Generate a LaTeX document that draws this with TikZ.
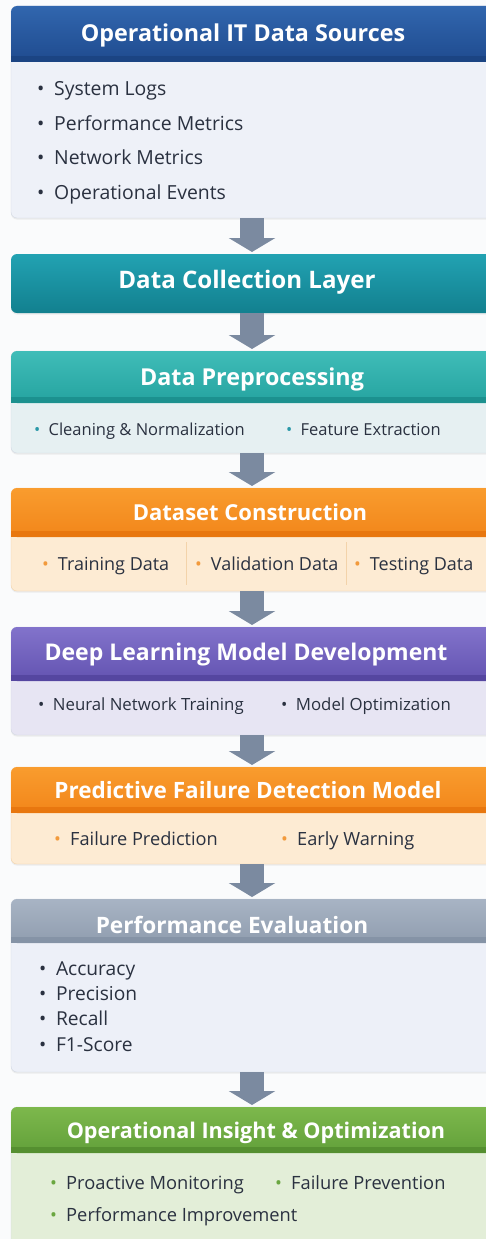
\documentclass[tikz,border=0pt]{standalone}
\usepackage{fontspec}
\setmainfont{Open Sans}
\usepackage{xcolor}
\usetikzlibrary{positioning,arrows.meta,shadows}

% palette
\definecolor{ink}{HTML}{2A3140}
\definecolor{paper}{HTML}{FAFBFC}
\definecolor{edge}{HTML}{D3D9E4}
\definecolor{arrowc}{HTML}{7B8AA0}
\definecolor{srctop}{HTML}{3166AE}
\definecolor{srcbot}{HTML}{1F4B8F}
\definecolor{srcband}{HTML}{1B4483}
\definecolor{srcfill}{HTML}{EEF1F8}
\definecolor{coltop}{HTML}{22A2B2}
\definecolor{colbot}{HTML}{12808F}
\definecolor{pretop}{HTML}{3FBDB8}
\definecolor{prebot}{HTML}{25A3A0}
\definecolor{preband}{HTML}{1C918F}
\definecolor{prefill}{HTML}{E6F0F2}
\definecolor{predot}{HTML}{2A98A8}
\definecolor{orgtop}{HTML}{F99C2E}
\definecolor{orgbot}{HTML}{F2861A}
\definecolor{orgband}{HTML}{E8770F}
\definecolor{orgfill}{HTML}{FDEBD3}
\definecolor{orgedge}{HTML}{F3D3AA}
\definecolor{orgdot}{HTML}{F29A3C}
\definecolor{purtop}{HTML}{8273CB}
\definecolor{purbot}{HTML}{6353B1}
\definecolor{purband}{HTML}{5546A0}
\definecolor{purfill}{HTML}{E7E5F3}
\definecolor{gretop}{HTML}{A8B4C4}
\definecolor{grebot}{HTML}{909DAF}
\definecolor{greband}{HTML}{8593A6}
\definecolor{grefill}{HTML}{EDF0F8}
\definecolor{grntop}{HTML}{7DB84C}
\definecolor{grnbot}{HTML}{62A03A}
\definecolor{grnband}{HTML}{558F30}
\definecolor{grnfill}{HTML}{E3EED8}
\definecolor{grndot}{HTML}{6AA640}

\tikzset{
  panel/.style={anchor=north west, rectangle, rounded corners=6pt, minimum width=482pt,
    inner sep=0pt, outer sep=0pt, draw=edge,
    drop shadow={opacity=0.12, shadow xshift=0pt, shadow yshift=-1.5pt}},
  hdr/.style={anchor=north west, rectangle, rounded corners=6pt, minimum width=482pt,
    inner sep=0pt, outer sep=0pt},
  ttl/.style={anchor=base, text=white, inner sep=0pt, font=\bfseries\fontsize{#1}{28}\selectfont},
  ttl/.default=23.3,
  item/.style={anchor=base west, inner sep=0pt, text=ink, font=\fontsize{#1}{#1}\selectfont},
  item/.default=18,
  flow/.style={line width=24pt, draw=arrowc, -{Triangle[width=46pt,length=14pt]}, shorten >=2pt},
  divline/.style={draw=orgedge, line width=0.8pt}
}

\begin{document}
\begin{tikzpicture}[x=1pt, y=-1pt]
  \fill[paper] (0,0) rectangle (486,1239);
  \useasboundingbox (0,0) rectangle (486,1239);

  % operational data sources
  \node[panel, fill=srcfill, minimum height=212pt] (src) at (11,6) {};
  \node[hdr, top color=srctop, bottom color=srcbot, minimum height=56pt] (srchdr) at (11,6) {};
  \fill[srcband] ([yshift=6pt]srchdr.south west) rectangle (srchdr.south east);
  \node[ttl] (srcttl) at (243,42) {Operational IT Data Sources};
  \node[item=19.4] (logs) at (37,95) {\textbullet\enspace System Logs};
  \node[item=19.4] (perf) at (37,130) {\textbullet\enspace Performance Metrics};
  \node[item=19.4] (net) at (37,164) {\textbullet\enspace Network Metrics};
  \node[item=19.4] (events) at (37,199) {\textbullet\enspace Operational Events};

  % collection layer
  \node[hdr, top color=coltop, bottom color=colbot, minimum height=59pt,
    drop shadow={opacity=0.12, shadow xshift=0pt, shadow yshift=-1.5pt}] (col) at (11,254) {};
  \node[ttl=24.1] (colttl) at (247,288) {Data Collection Layer};

  % preprocessing
  \node[panel, fill=prefill, minimum height=102pt] (pre) at (11,351) {};
  \node[hdr, top color=pretop, bottom color=prebot, minimum height=52pt] (prehdr) at (11,351) {};
  \fill[preband] ([yshift=6pt]prehdr.south west) rectangle (prehdr.south east);
  \node[ttl] (prettl) at (252,385) {Data Preprocessing};
  \node[item=16.5] (clean) at (34,435) {\textcolor{predot}{\textbullet}\enspace Cleaning \& Normalization};
  \node[item=16.5] (feat) at (286,435) {\textcolor{predot}{\textbullet}\enspace Feature Extraction};

  % dataset construction
  \node[panel, fill=orgfill, draw=orgedge, minimum height=103pt] (ds) at (11,488) {};
  \node[hdr, top color=orgtop, bottom color=orgbot, minimum height=49pt] (dshdr) at (11,488) {};
  \fill[orgband] ([yshift=6pt]dshdr.south west) rectangle (dshdr.south east);
  \node[ttl=22] (dsttl) at (250,520) {Dataset Construction};
  \node[item=18] (train) at (42,570) {\textcolor{orgdot}{\textbullet}\enspace Training Data};
  \node[item=18] (valid) at (195,570) {\textcolor{orgdot}{\textbullet}\enspace Validation Data};
  \node[item=18] (test) at (354,570) {\textcolor{orgdot}{\textbullet}\enspace Testing Data};
  \draw[divline] (186,542) -- (186,585);
  \draw[divline] (346,542) -- (346,585);

  % model development
  \node[panel, fill=purfill, minimum height=108pt] (dl) at (11,627) {};
  \node[hdr, top color=purtop, bottom color=purbot, minimum height=54pt] (dlhdr) at (11,627) {};
  \fill[purband] ([yshift=6pt]dlhdr.south west) rectangle (dlhdr.south east);
  \node[ttl=23] (dlttl) at (246,660) {Deep Learning Model Development};
  \node[item=16.8] (nnt) at (38,710) {\textbullet\enspace Neural Network Training};
  \node[item=16.8] (opt) at (281,710) {\textbullet\enspace Model Optimization};

  % failure detection model
  \node[panel, fill=orgfill, draw=orgedge, minimum height=97pt] (pf) at (11,767) {};
  \node[hdr, top color=orgtop, bottom color=orgbot, minimum height=46pt] (pfhdr) at (11,767) {};
  \fill[orgband] ([yshift=6pt]pfhdr.south west) rectangle (pfhdr.south east);
  \node[ttl=22.5] (pfttl) at (248,798) {Predictive Failure Detection Model};
  \node[item=18.2] (fpred) at (54,845) {\textcolor{orgdot}{\textbullet}\enspace Failure Prediction};
  \node[item=18.2] (warn) at (281,845) {\textcolor{orgdot}{\textbullet}\enspace Early Warning};

  % evaluation
  \node[panel, fill=grefill, minimum height=173pt] (ev) at (11,899) {};
  \node[hdr, top color=gretop, bottom color=grebot, minimum height=44pt] (evhdr) at (11,899) {};
  \fill[greband] ([yshift=6pt]evhdr.south west) rectangle (evhdr.south east);
  \node[ttl=22.6] (evttl) at (232,933) {Performance Evaluation};
  \node[item=19.2] (acc) at (39,975) {\textbullet\enspace Accuracy};
  \node[item=19.2] (prec) at (39,1000) {\textbullet\enspace Precision};
  \node[item=19.2] (rec) at (39,1025) {\textbullet\enspace Recall};
  \node[item=19.2] (fone) at (39,1051) {\textbullet\enspace F1-Score};

  % insight and optimization
  \node[panel, fill=grnfill, minimum height=160pt] (ins) at (11,1107) {};
  \node[hdr, top color=grntop, bottom color=grnbot, minimum height=46pt] (inshdr) at (11,1107) {};
  \fill[grnband] ([yshift=6pt]inshdr.south west) rectangle (inshdr.south east);
  \node[ttl=21.6] (insttl) at (256,1138) {Operational Insight \& Optimization};
  \node[item=18.3] (mon) at (50,1189) {\textcolor{grndot}{\textbullet}\enspace Proactive Monitoring};
  \node[item=18.3] (prev) at (275,1189) {\textcolor{grndot}{\textbullet}\enspace Failure Prevention};
  \node[item=18.3] (impr) at (50,1221) {\textcolor{grndot}{\textbullet}\enspace Performance Improvement};

  % flow arrows
  \draw[flow] (src.south) -- (col.north);
  \draw[flow] (col.south) -- (pre.north);
  \draw[flow] (pre.south) -- (ds.north);
  \draw[flow] (ds.south) -- (dl.north);
  \draw[flow] (dl.south) -- (pf.north);
  \draw[flow] (pf.south) -- (ev.north);
  \draw[flow] (ev.south) -- (ins.north);
\end{tikzpicture}
\end{document}
